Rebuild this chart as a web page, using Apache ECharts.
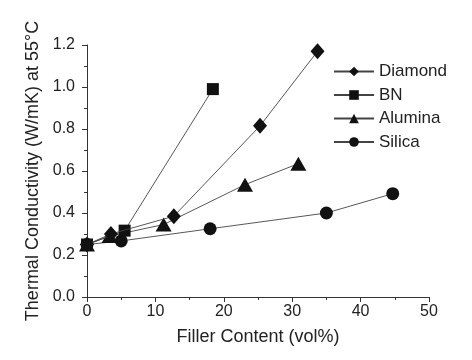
<!DOCTYPE html>
<html><head><meta charset="utf-8">
<script src="https://cdn.jsdelivr.net/npm/echarts@6/dist/echarts.min.js"></script>
<style>html,body{margin:0;padding:0;background:#fff}#c{width:472px;height:360px}</style>
</head><body><div id="c"></div>
<script>
const seriesNames = ['Diamond', 'BN', 'Alumina', 'Silica'];
const diamondX = [0, 3.5, 12.7, 25.3, 33.7];
const diamondY = [0.25, 0.30, 0.385, 0.815, 1.17];
const bnX = [0, 5.5, 18.4];
const bnY = [0.25, 0.316, 0.99];
const aluminaX = [0, 3.3, 11.2, 23.1, 30.9];
const aluminaY = [0.25, 0.29, 0.345, 0.535, 0.635];
const silicaX = [0, 5.0, 18.0, 35.0, 44.7];
const silicaY = [0.25, 0.267, 0.325, 0.40, 0.492];
const xTicks = [0, 10, 20, 30, 40, 50];
const yTicks = [0.0, 0.2, 0.4, 0.6, 0.8, 1.0, 1.2];

const pairs = (xs, ys) => xs.map((x, i) => [x, ys[i]]);
const symbols = ['diamond', 'rect', 'triangle', 'circle'];
const sizes = [[14, 16], 12, [16, 14], 13];
const datas = [pairs(diamondX, diamondY), pairs(bnX, bnY), pairs(aluminaX, aluminaY), pairs(silicaX, silicaY)];
const FONT = '"Liberation Sans", Arial, sans-serif';

const chart = echarts.init(document.getElementById('c'), null, {renderer: 'canvas'});
chart.setOption({
  animation: false,
  backgroundColor: '#fff',
  grid: {left: 87, right: 43, top: 45, bottom: 63},
  legend: {
    orient: 'vertical', left: 333, top: 63, itemGap: 6.5, itemWidth: 40, itemHeight: 12, padding: 0,
    textStyle: {fontFamily: FONT, fontSize: 17, color: '#222'},
    data: seriesNames
  },
  xAxis: {
    type: 'value', min: 0, max: 50, interval: 10,
    name: 'Filler Content (vol%)', nameLocation: 'middle', nameGap: 31,
    nameTextStyle: {fontFamily: FONT, fontSize: 18, color: '#222'},
    axisLine: {lineStyle: {color: '#333', width: 1}},
    axisTick: {inside: false, length: 5, lineStyle: {color: '#333'}},
    minorTick: {show: true, splitNumber: 2, length: 3, lineStyle: {color: '#333'}},
    splitLine: {show: false},
    axisLabel: {fontFamily: FONT, fontSize: 16, color: '#222', margin: 7,
      formatter: v => xTicks.includes(v) ? String(v) : ''}
  },
  yAxis: {
    type: 'value', min: 0, max: 1.2, interval: 0.2,
    name: 'Thermal Conductivity (W/mK) at 55\u00B0C', nameLocation: 'middle', nameGap: 44,
    nameTextStyle: {fontFamily: FONT, fontSize: 18, color: '#222'},
    axisLine: {show: true, lineStyle: {color: '#333', width: 1}},
    axisTick: {show: true, inside: false, length: 5, lineStyle: {color: '#333'}},
    minorTick: {show: true, splitNumber: 2, length: 3, lineStyle: {color: '#333'}},
    splitLine: {show: false},
    axisLabel: {fontFamily: FONT, fontSize: 16, color: '#222', margin: 12,
      formatter: v => { const t = yTicks.find(y => Math.abs(y - v) < 1e-6); return t === undefined ? '' : t.toFixed(1); }}
  },
  series: seriesNames.map((n, i) => ({
    name: n, type: 'line', data: datas[i],
    symbol: symbols[i], symbolSize: sizes[i], showSymbol: true,
    itemStyle: {color: '#111'},
    lineStyle: {color: '#444', width: 0.9},
    z: 10 - i
  }))
});
</script></body></html>
